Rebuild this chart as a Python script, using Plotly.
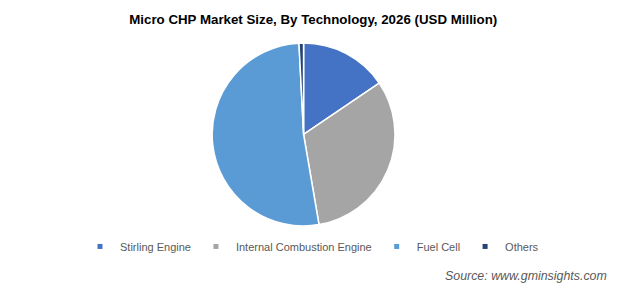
import plotly.graph_objects as go

categories = ["Stirling Engine", "Internal Combustion Engine", "Fuel Cell", "Others"]
values = [15.5, 31.8, 51.9, 0.8]
colors = ["#4472C4", "#A5A5A5", "#5B9BD5", "#264478"]

fig = go.Figure()
fig.add_trace(go.Pie(
    labels=categories,
    values=values,
    sort=False,
    direction="clockwise",
    rotation=0,
    textinfo="none",
    showlegend=False,
    marker=dict(colors=colors, line=dict(color="white", width=1.5)),
    domain=dict(x=[0.34, 0.633], y=[0.226, 0.853]),
))

# legend entries (small square markers like the original)
for name, col in zip(categories, colors):
    fig.add_trace(go.Scatter(
        x=[None], y=[None], mode="markers", name=name,
        marker=dict(symbol="square", size=5, color=col),
        hoverinfo="skip",
    ))

fig.update_layout(
    width=624, height=292,
    margin=dict(l=0, r=0, t=0, b=0),
    paper_bgcolor="white",
    plot_bgcolor="white",
    xaxis=dict(visible=False),
    yaxis=dict(visible=False),
    title=dict(text="<b>Micro CHP Market Size, By Technology, 2026 (USD Million)</b>",
               x=0.502, xanchor="center", y=0.935, yanchor="middle",
               font=dict(family="Liberation Sans, Arial", size=13.3, color="#000000")),
    legend=dict(orientation="h", x=0.5, xanchor="center", y=0.156, yanchor="middle",
                font=dict(family="Liberation Sans, Arial", size=11, color="#595959"),
                itemclick=False, tracegroupgap=0),
    annotations=[dict(text="<i>Source: www.gminsights.com</i>", x=0.976, xanchor="right",
                      y=0.054, yanchor="middle", xref="paper", yref="paper",
                      showarrow=False,
                      font=dict(family="Liberation Sans, Arial", size=12.4, color="#595959"))],
)

fig.write_html("out.html")
